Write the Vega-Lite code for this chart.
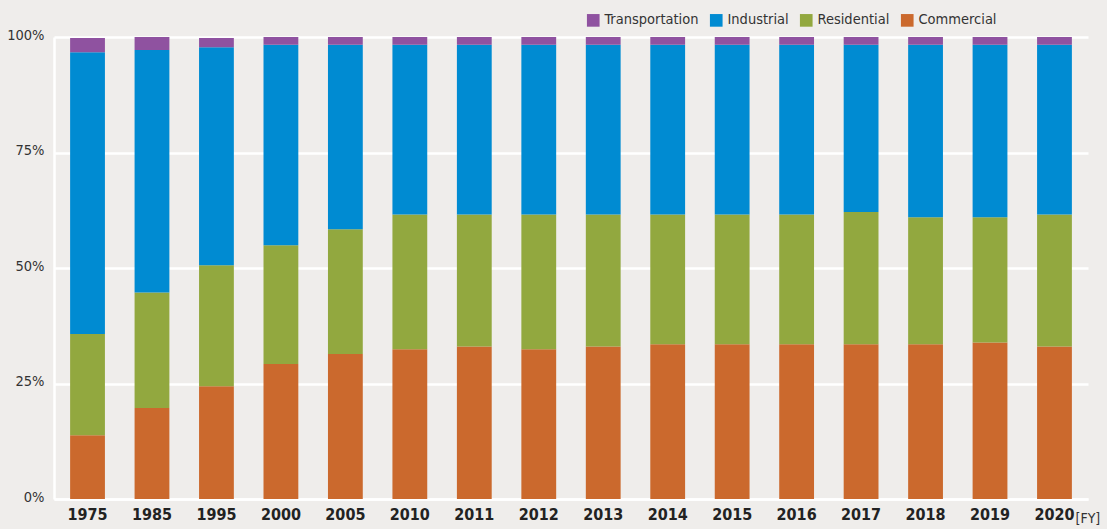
{
  "$schema": "https://vega.github.io/schema/vega-lite/v6.json",
  "width": 1034,
  "height": 462,
  "autosize": {"type": "none"},
  "padding": {"left": 54, "top": 37, "right": 19, "bottom": 30},
  "background": "#efedeb",
  "config": {
    "view": {"stroke": null},
    "font": "DejaVu Sans Condensed, sans-serif"
  },
  "data": {
    "values": [
      {"year": "1975", "sector": "Commercial", "share": 13.8},
      {"year": "1975", "sector": "Residential", "share": 21.9},
      {"year": "1975", "sector": "Industrial", "share": 61.0},
      {"year": "1975", "sector": "Transportation", "share": 3.1},
      {"year": "1985", "sector": "Commercial", "share": 19.7},
      {"year": "1985", "sector": "Residential", "share": 25.0},
      {"year": "1985", "sector": "Industrial", "share": 52.5},
      {"year": "1985", "sector": "Transportation", "share": 2.8},
      {"year": "1995", "sector": "Commercial", "share": 24.4},
      {"year": "1995", "sector": "Residential", "share": 26.2},
      {"year": "1995", "sector": "Industrial", "share": 47.2},
      {"year": "1995", "sector": "Transportation", "share": 2.0},
      {"year": "2000", "sector": "Commercial", "share": 29.2},
      {"year": "2000", "sector": "Residential", "share": 25.7},
      {"year": "2000", "sector": "Industrial", "share": 43.4},
      {"year": "2000", "sector": "Transportation", "share": 1.7},
      {"year": "2005", "sector": "Commercial", "share": 31.4},
      {"year": "2005", "sector": "Residential", "share": 27.0},
      {"year": "2005", "sector": "Industrial", "share": 39.9},
      {"year": "2005", "sector": "Transportation", "share": 1.7},
      {"year": "2010", "sector": "Commercial", "share": 32.4},
      {"year": "2010", "sector": "Residential", "share": 29.2},
      {"year": "2010", "sector": "Industrial", "share": 36.7},
      {"year": "2010", "sector": "Transportation", "share": 1.7},
      {"year": "2011", "sector": "Commercial", "share": 33.0},
      {"year": "2011", "sector": "Residential", "share": 28.6},
      {"year": "2011", "sector": "Industrial", "share": 36.7},
      {"year": "2011", "sector": "Transportation", "share": 1.7},
      {"year": "2012", "sector": "Commercial", "share": 32.4},
      {"year": "2012", "sector": "Residential", "share": 29.2},
      {"year": "2012", "sector": "Industrial", "share": 36.7},
      {"year": "2012", "sector": "Transportation", "share": 1.7},
      {"year": "2013", "sector": "Commercial", "share": 33.0},
      {"year": "2013", "sector": "Residential", "share": 28.6},
      {"year": "2013", "sector": "Industrial", "share": 36.7},
      {"year": "2013", "sector": "Transportation", "share": 1.7},
      {"year": "2014", "sector": "Commercial", "share": 33.5},
      {"year": "2014", "sector": "Residential", "share": 28.1},
      {"year": "2014", "sector": "Industrial", "share": 36.7},
      {"year": "2014", "sector": "Transportation", "share": 1.7},
      {"year": "2015", "sector": "Commercial", "share": 33.5},
      {"year": "2015", "sector": "Residential", "share": 28.1},
      {"year": "2015", "sector": "Industrial", "share": 36.7},
      {"year": "2015", "sector": "Transportation", "share": 1.7},
      {"year": "2016", "sector": "Commercial", "share": 33.5},
      {"year": "2016", "sector": "Residential", "share": 28.1},
      {"year": "2016", "sector": "Industrial", "share": 36.7},
      {"year": "2016", "sector": "Transportation", "share": 1.7},
      {"year": "2017", "sector": "Commercial", "share": 33.5},
      {"year": "2017", "sector": "Residential", "share": 28.6},
      {"year": "2017", "sector": "Industrial", "share": 36.2},
      {"year": "2017", "sector": "Transportation", "share": 1.7},
      {"year": "2018", "sector": "Commercial", "share": 33.5},
      {"year": "2018", "sector": "Residential", "share": 27.5},
      {"year": "2018", "sector": "Industrial", "share": 37.3},
      {"year": "2018", "sector": "Transportation", "share": 1.7},
      {"year": "2019", "sector": "Commercial", "share": 33.9},
      {"year": "2019", "sector": "Residential", "share": 27.1},
      {"year": "2019", "sector": "Industrial", "share": 37.3},
      {"year": "2019", "sector": "Transportation", "share": 1.7},
      {"year": "2020", "sector": "Commercial", "share": 33.0},
      {"year": "2020", "sector": "Residential", "share": 28.6},
      {"year": "2020", "sector": "Industrial", "share": 36.7},
      {"year": "2020", "sector": "Transportation", "share": 1.7}
    ]
  },
  "transform": [
    {"calculate": "indexof(['Commercial','Residential','Industrial','Transportation'], datum.sector)", "as": "stackOrder"}
  ],
  "mark": {"type": "bar"},
  "encoding": {
    "x": {
      "field": "year",
      "type": "nominal",
      "sort": null,
      "scale": {"paddingInner": 0.46, "paddingOuter": 0.25},
      "axis": {
        "labelAngle": 0,
        "labelFontSize": 16,
        "labelFontWeight": "bold",
        "labelColor": "#222222",
        "labelPadding": 7,
        "ticks": false,
        "domain": true,
        "domainColor": "#ffffff",
        "domainWidth": 2.5,
        "grid": false,
        "title": "[FY]",
        "titleFontSize": 14,
        "titleFontWeight": "normal",
        "titleColor": "#333333",
        "titleAlign": "left",
        "titleBaseline": "alphabetic",
        "titleAnchor": null,
        "titleX": 1021,
        "titleY": 23
      }
    },
    "y": {
      "field": "share",
      "type": "quantitative",
      "stack": "zero",
      "scale": {"domain": [0, 100], "nice": false},
      "axis": {
        "values": [0, 25, 50, 75, 100],
        "labelExpr": "datum.value + '%'",
        "labelFontSize": 14.5,
        "labelColor": "#333333",
        "labelPadding": 10,
        "labelOffset": -2,
        "ticks": false,
        "domain": true,
        "domainColor": "#ffffff",
        "domainWidth": 2.5,
        "grid": true,
        "gridColor": "#ffffff",
        "gridWidth": 2.5,
        "gridOpacity": 1,
        "title": null
      }
    },
    "color": {
      "field": "sector",
      "type": "nominal",
      "scale": {
        "domain": ["Transportation", "Industrial", "Residential", "Commercial"],
        "range": ["#8f52a0", "#008bd2", "#92a83f", "#cb692d"]
      },
      "legend": {
        "orient": "none",
        "legendX": 532,
        "legendY": -24,
        "direction": "horizontal",
        "title": null,
        "symbolType": "square",
        "symbolSize": 160,
        "symbolStrokeWidth": 0,
        "labelFontSize": 14.5,
        "labelColor": "#333333",
        "labelOffset": 4,
        "columnPadding": 10
      }
    },
    "order": {"field": "stackOrder", "type": "quantitative"}
  }
}
